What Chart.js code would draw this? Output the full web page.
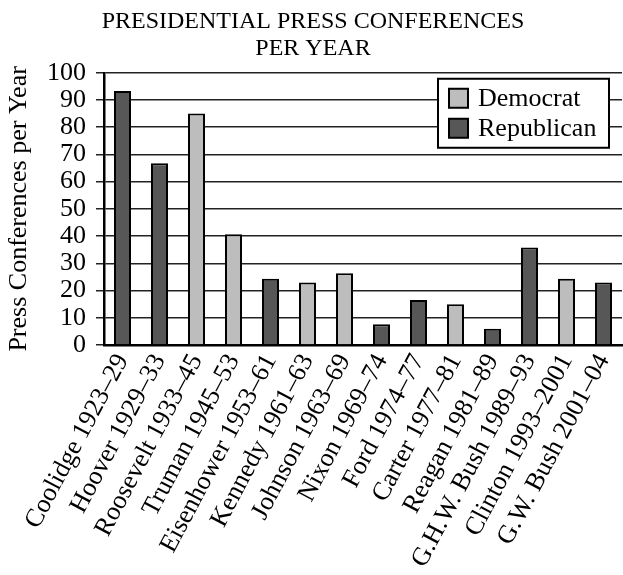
<!DOCTYPE html>
<html>
<head>
<meta charset="utf-8">
<script src="https://cdn.jsdelivr.net/npm/chart.js@4.4.1/dist/chart.umd.min.js"></script>
<style>
  html, body { margin: 0; padding: 0; background: #fff; }
  #wrap { width: 623px; height: 575px; }
</style>
</head>
<body>
<div id="wrap"><canvas id="pressChart" width="623" height="575"></canvas></div>
<script>
const presidents = [
  "Coolidge 1923–29", "Hoover 1929–33", "Roosevelt 1933–45", "Truman 1945–53",
  "Eisenhower 1953–61", "Kennedy 1961–63", "Johnson 1963–69", "Nixon 1969–74",
  "Ford 1974–77", "Carter 1977–81", "Reagan 1981–89", "G.H.W. Bush 1989–93",
  "Clinton 1993–2001", "G.W. Bush 2001–04"
];
const democrat = [null, null, 85, 40.7, null, 23, 26.4, null, null, 15, null, null, 24.3, null];
const republican = [93.3, 66.8, null, null, 24.3, null, null, 7.6, 16.5, null, 6, 35.8, null, 23];
const yTicks = [0, 10, 20, 30, 40, 50, 60, 70, 80, 90, 100];

const serif = "'Liberation Serif', 'Times New Roman', serif";
const lightGray = "#bdbdbd";
const darkGray = "#575757";

// legend box drawn inside the plot, top right
const boxLegend = {
  id: "boxLegend",
  afterDraw(chart) {
    const ctx = chart.ctx;
    const area = chart.chartArea;
    const w = 171, h = 69;
    const x = area.right - 13 - w;
    const y = area.top + 6;
    ctx.save();
    ctx.fillStyle = "#fff";
    ctx.fillRect(x, y, w, h);
    ctx.lineWidth = 2;
    ctx.strokeStyle = "#000";
    ctx.strokeRect(x, y, w, h);
    ctx.font = "26px " + serif;
    ctx.textBaseline = "middle";
    chart.data.datasets.forEach((ds, i) => {
      const cy = y + 19 + i * 30;
      ctx.fillStyle = ds.backgroundColor;
      ctx.fillRect(x + 11, cy - 9, 19, 19);
      ctx.strokeRect(x + 11, cy - 9, 19, 19);
      ctx.fillStyle = "#000";
      ctx.fillText(ds.label, x + 40, cy + 1);
    });
    ctx.restore();
  }
};

new Chart(document.getElementById("pressChart"), {
  type: "bar",
  data: {
    labels: presidents,
    datasets: [
      { label: "Democrat", data: democrat, backgroundColor: lightGray, borderColor: "#000", borderWidth: 2 },
      { label: "Republican", data: republican, backgroundColor: darkGray, borderColor: "#000", borderWidth: 2 }
    ]
  },
  options: {
    responsive: false,
    animation: false,
    layout: { padding: { left: 4, right: 1, top: 0, bottom: 0 } },
    datasets: { bar: { categoryPercentage: 1, barPercentage: 0.46 } },
    plugins: {
      legend: { display: false },
      tooltip: { enabled: false },
      title: {
        display: true,
        text: ["PRESIDENTIAL PRESS CONFERENCES", "PER YEAR"],
        color: "#000",
        font: { family: serif, size: 24, weight: "normal", lineHeight: 1.12 },
        padding: { top: 8, bottom: 11 }
      }
    },
    scales: {
      x: {
        stacked: true,
        grid: { display: false, drawTicks: false },
        border: { color: "#000", width: 2.5 },
        ticks: {
          color: "#000",
          font: { family: serif, size: 26 },
          minRotation: 62,
          maxRotation: 62,
          autoSkip: false,
          padding: 4
        },
        afterFit: s => { s.height = 230; s.paddingLeft = 0; s.paddingRight = 0; }
      },
      y: {
        stacked: true,
        min: 0,
        max: 100,
        afterBuildTicks: s => { s.ticks = yTicks.map(v => ({ value: v })); },
        grid: { color: "#222", lineWidth: 1.5, tickLength: 8 },
        border: { color: "#000", width: 2.5 },
        ticks: { color: "#000", font: { family: serif, size: 26 }, padding: 10, autoSkip: false },
        title: {
          display: true,
          text: "Press Conferences per Year",
          color: "#000",
          font: { family: serif, size: 26 },
          padding: { top: 0, bottom: 0 }
        },
        afterFit: s => { s.width = 100; }
      }
    }
  },
  plugins: [boxLegend]
});
</script>
</body>
</html>
